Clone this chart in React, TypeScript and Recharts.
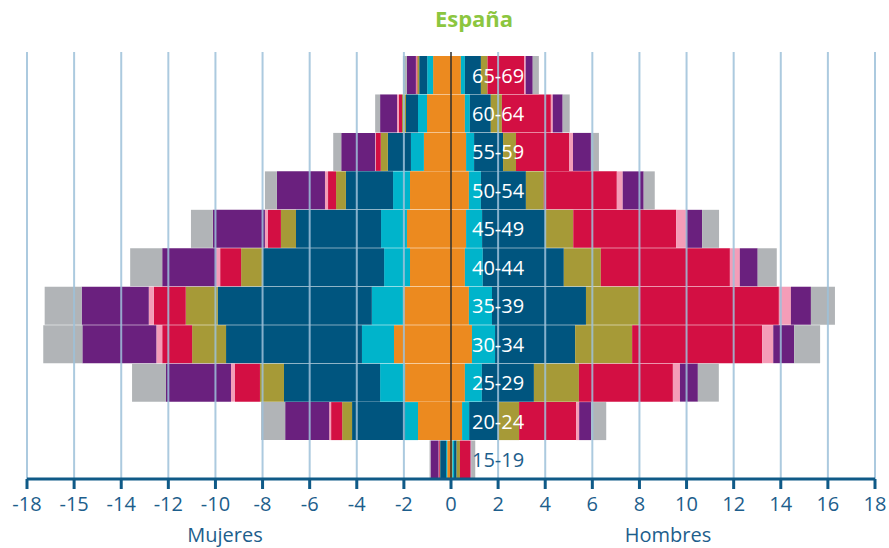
import React from 'react';
import { Bar, BarChart, LabelList, ReferenceLine, XAxis, YAxis } from 'recharts';

// age groups, top to bottom
const ages = ['65-69', '60-64', '55-59', '50-54', '45-49', '40-44', '35-39', '30-34', '25-29', '20-24', '15-19'];

// series, from the centre outwards
const groupKeys = ['orange', 'cyan', 'blue', 'olive', 'red', 'pink', 'purple', 'gray'];
const groupColors = ['#EC8A1F', '#00B4CB', '#00557F', '#A69A37', '#D30F43', '#F49DB8', '#6A207E', '#B1B4B7'];

// Mujeres (%)
const womenOrange = [0.76, 1.02, 1.15, 1.74, 1.87, 1.74, 2.04, 2.42, 1.95, 1.4, 0.16];
const womenCyan = [0.25, 0.38, 0.55, 0.72, 1.1, 1.1, 1.32, 1.36, 1.06, 0.55, 0.05];
const womenBlue = [0.34, 0.51, 0.98, 2.0, 3.61, 5.14, 6.54, 5.77, 4.08, 2.25, 0.25];
const womenOlive = [0.08, 0.17, 0.3, 0.42, 0.64, 0.93, 1.36, 1.44, 1.02, 0.42, 0.02];
const womenRed = [0.04, 0.13, 0.21, 0.34, 0.55, 0.89, 1.36, 1.27, 1.06, 0.47, 0.04];
const womenPink = [0.02, 0.08, 0.03, 0.13, 0.13, 0.17, 0.21, 0.25, 0.17, 0.08, 0.01];
const womenPurple = [0.38, 0.72, 1.44, 2.04, 2.21, 2.29, 2.85, 3.14, 2.76, 1.87, 0.34];
const womenGray = [0.17, 0.21, 0.34, 0.51, 0.93, 1.36, 1.57, 1.66, 1.44, 1.02, 0.04];

// Hombres (%)
const menOrange = [0.42, 0.59, 0.64, 0.76, 0.64, 0.59, 0.76, 0.89, 0.59, 0.47, 0.06];
const menCyan = [0.17, 0.21, 0.34, 0.51, 0.68, 0.76, 0.98, 0.98, 0.72, 0.3, 0.07];
const menBlue = [0.68, 0.89, 1.23, 1.91, 2.68, 3.44, 3.99, 3.4, 2.21, 1.23, 0.11];
const menOlive = [0.28, 0.47, 0.55, 0.76, 1.19, 1.57, 2.25, 2.42, 1.91, 0.89, 0.14];
const menRed = [1.55, 2.08, 2.25, 3.1, 4.37, 5.48, 5.94, 5.52, 3.99, 2.42, 0.45];
const menPink = [0.07, 0.08, 0.17, 0.25, 0.42, 0.42, 0.51, 0.47, 0.3, 0.13, 0.01];
const menPurple = [0.3, 0.42, 0.76, 0.89, 0.68, 0.76, 0.85, 0.89, 0.76, 0.51, 0.02];
const menGray = [0.26, 0.3, 0.34, 0.47, 0.72, 0.81, 1.02, 1.1, 0.89, 0.64, 0.17];

const womenSeries = [womenOrange, womenCyan, womenBlue, womenOlive, womenRed, womenPink, womenPurple, womenGray];
const menSeries = [menOrange, menCyan, menBlue, menOlive, menRed, menPink, menPurple, menGray];

// axis ticks (the original prints -15 at the -16 mark)
const tickValues = [-18, -16, -14, -12, -10, -8, -6, -4, -2, 0, 2, 4, 6, 8, 10, 12, 14, 16, 18];
const tickLabels = ['-18', '-15', '-14', '-12', '-10', '-8', '-6', '-4', '-2', '0', '2', '4', '6', '8', '10', '12', '14', '16', '18'];

const data = ages.map((age, i) => {
  const row: Record<string, number | string> = { age };
  groupKeys.forEach((k, j) => {
    row['w_' + k] = -womenSeries[j][i];
    row['m_' + k] = menSeries[j][i];
  });
  return row;
});

const font = "'Open Sans', 'DejaVu Sans', sans-serif";
const axisBlue = '#0F5A87';

const AgeLabel = (props: any) => {
  const { x, y, height, value } = props;
  return (
    <text
      x={x + 21}
      y={y + height / 2}
      dominantBaseline="central"
      fill={value === '15-19' ? '#1D5E8C' : '#ffffff'}
      fontSize={20}
      fontFamily={font}
    >
      {value}
    </text>
  );
};

export default function App() {
  return (
    <div style={{ position: 'absolute', left: 0, top: 0, width: 889, height: 548, background: '#fff' }}>
      <div
        style={{
          position: 'absolute',
          top: 7,
          left: 374,
          width: 200,
          textAlign: 'center',
          fontFamily: font,
          fontWeight: 700,
          fontSize: 22,
          lineHeight: 1,
          color: '#8CC63F',
        }}
      >
        España
      </div>
      <BarChart
        width={889}
        height={548}
        data={data}
        layout="vertical"
        stackOffset="sign"
        barCategoryGap={0}
        barGap={0}
        margin={{ top: 52, right: 14, bottom: 0, left: 27 }}
      >
        <XAxis
          type="number"
          domain={[-18, 18]}
          ticks={tickValues}
          interval={0}
          allowDataOverflow
          height={69}
          tickFormatter={(v: number) => tickLabels[tickValues.indexOf(v)]}
          axisLine={{ stroke: axisBlue, strokeWidth: 3 }}
          tickLine={{ stroke: axisBlue, strokeWidth: 3 }}
          tickSize={10}
          tickMargin={8}
          tick={{ fill: '#1D5E8C', fontSize: 20, fontFamily: font }}
        />
        <YAxis type="category" dataKey="age" hide width={0} padding={{ top: 4, bottom: 0 }} />
        {groupKeys.map((k, j) => (
          <Bar key={'w_' + k} dataKey={'w_' + k} stackId="a" fill={groupColors[j]} isAnimationActive={false} />
        ))}
        {groupKeys.map((k, j) => (
          <Bar key={'m_' + k} dataKey={'m_' + k} stackId="a" fill={groupColors[j]} isAnimationActive={false}>
            {j === 0 && <LabelList dataKey="age" content={AgeLabel} />}
          </Bar>
        ))}
        {tickValues
          .filter((v) => v !== 0)
          .map((v) => (
            <ReferenceLine key={v} x={v} stroke="#9EC1D9" strokeWidth={2} strokeOpacity={0.85} />
          ))}
        <ReferenceLine x={0} stroke="#2E2E2E" strokeWidth={1.5} />
      </BarChart>
      <div style={{ position: 'absolute', top: 525, left: 125, width: 200, textAlign: 'center', fontFamily: font, fontSize: 20, lineHeight: 1, color: '#1D5E8C' }}>
        Mujeres
      </div>
      <div style={{ position: 'absolute', top: 525, left: 568, width: 200, textAlign: 'center', fontFamily: font, fontSize: 20, lineHeight: 1, color: '#1D5E8C' }}>
        Hombres
      </div>
    </div>
  );
}
